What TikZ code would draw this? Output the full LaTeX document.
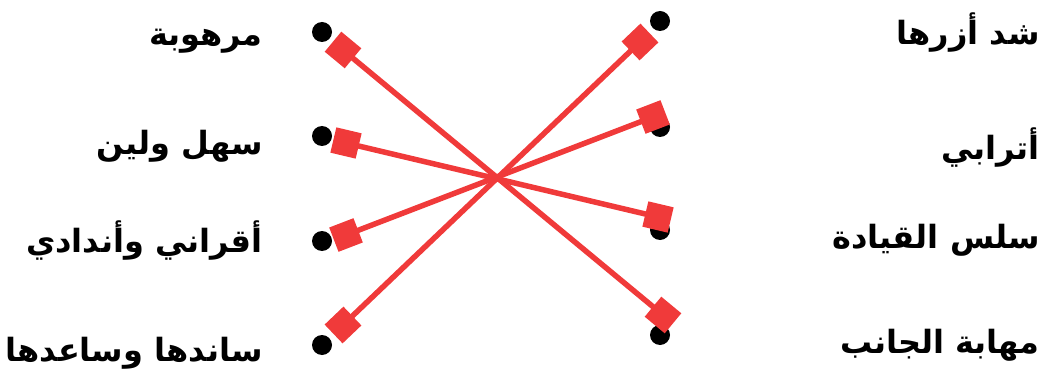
\documentclass[tikz,border=0pt]{standalone}
\usepackage{fontspec}
\usepackage{xcolor}
\newfontfamily\arabicfont[Script=Arabic]{DejaVu Sans}
\TeXXeTstate=1
\usetikzlibrary{arrows.meta,positioning}
\definecolor{linkred}{RGB}{240,58,58}

\begin{document}
\begin{tikzpicture}[x=1pt, y=-1pt,
  dot/.style={circle, fill=black, inner sep=0pt, minimum size=20pt},
  word/.style={font=\arabicfont\bfseries\fontsize{32}{36}\selectfont, inner sep=0pt},
  link/.style={draw=linkred, fill=linkred, line width=5.5pt,
               shorten <=-13pt, shorten >=-13pt,
               {Square[length=26pt, width=26pt]}-{Square[length=26pt, width=26pt]}}]

  \useasboundingbox (0,0) rectangle (1038,374);

  % dots
  \node[dot] (l1) at (322,32) {};
  \node[dot] (l2) at (322,136) {};
  \node[dot] (l3) at (322,241) {};
  \node[dot] (l4) at (322,345) {};
  \node[dot] (r1) at (660,21) {};
  \node[dot] (r2) at (660,127) {};
  \node[dot] (r3) at (660,230) {};
  \node[dot] (r4) at (660,335) {};

  % left words
  \node[word, left=49pt of l1, yshift=-9pt] (w1) {\beginR مرهوبة\endR};
  \node[word, left=49pt of l2, yshift=-10pt] (w2) {\beginR سهل ولين\endR};
  \node[word, left=49pt of l3] (w3) {\beginR أقراني وأندادي\endR};
  \node[word, left=49pt of l4, yshift=-8pt] (w4) {\beginR ساندها وساعدها\endR};

  % right words
  \node[word, anchor=east] (m1) at (1040,33) {\beginR شد أزرها\endR};
  \node[word, anchor=east] (m2) at (1040,148) {\beginR أترابي\endR};
  \node[word, anchor=east] (m3) at (1040,240) {\beginR سلس القيادة\endR};
  \node[word, anchor=east] (m4) at (1040,345) {\beginR مهابة الجانب\endR};

  % answer ends
  \coordinate (a1) at (343,50);
  \coordinate (a2) at (346,143);
  \coordinate (a3) at (346,235);
  \coordinate (a4) at (343,325);
  \coordinate (b1) at (640,42);
  \coordinate (b2) at (653,117);
  \coordinate (b3) at (658,217);
  \coordinate (b4) at (663,315);

  \draw[link] (a1) -- (b4);
  \draw[link] (a2) -- (b3);
  \draw[link] (a3) -- (b2);
  \draw[link] (a4) -- (b1);
\end{tikzpicture}
\end{document}
